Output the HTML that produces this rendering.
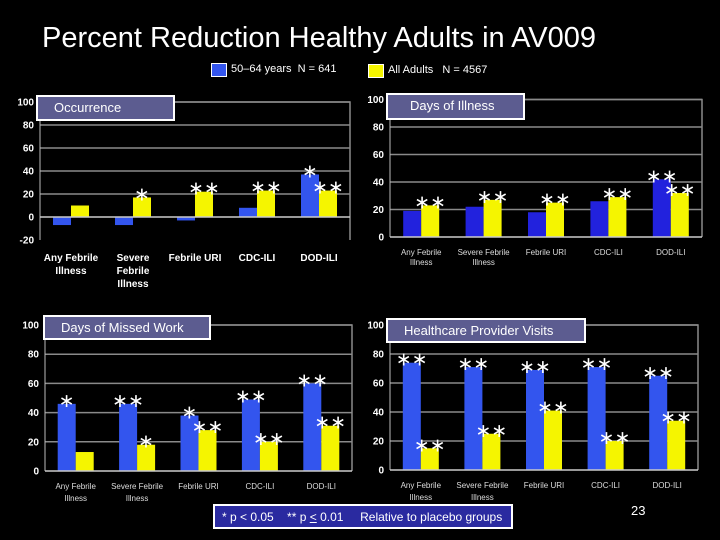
<!DOCTYPE html>
<html><head><meta charset="utf-8">
<style>
body{margin:0;background:#000;width:720px;height:540px;overflow:hidden;font-family:"Liberation Sans",sans-serif;}
#root{position:relative;width:720px;height:540px;}
.t{position:absolute;color:#fff;white-space:nowrap;}
.box{position:absolute;background:#5c5c90;border:2px solid #fff;color:#fff;font-size:13px;box-sizing:border-box;padding:3px 0 0 16px;}
</style></head><body>
<div id="root">
<div class="t" style="left:42px;top:22px;font-size:29px;">Percent Reduction Healthy Adults in AV009</div>
<div>
<div style="position:absolute;left:211px;top:63px;width:14px;height:12px;background:#3355ee;border:1px solid #fff;"></div>
<div class="t" style="left:231px;top:63px;font-size:11px;">50–64 years&nbsp; N = 641</div>
<div style="position:absolute;left:368px;top:64px;width:14px;height:12px;background:#f5f500;border:1px solid #fff;"></div>
<div class="t" style="left:388px;top:64px;font-size:11px;">All Adults&nbsp;&nbsp; N = 4567</div>
</div>
<svg id="svg" width="720" height="540" style="position:absolute;left:0;top:0"></svg>
<div class="box" style="left:36px;top:95px;width:139px;height:26px;">Occurrence</div>
<div class="box" style="left:386px;top:93px;width:139px;height:27px;padding-left:22px;">Days of Illness</div>
<div class="box" style="left:43px;top:315px;width:168px;height:25px;padding-left:16px;">Days of Missed Work</div>
<div class="box" style="left:386px;top:318px;width:200px;height:25px;padding-left:16px;">Healthcare Provider Visits</div>
<div style="position:absolute;left:213px;top:504px;width:300px;height:25px;background:#2a2aa0;border:2px solid #fff;box-sizing:border-box;color:#fff;font-size:12px;padding:4px 0 0 7px;white-space:nowrap;">* p &lt; 0.05&nbsp;&nbsp;&nbsp; ** p <u>&lt;</u> 0.01&nbsp;&nbsp;&nbsp;&nbsp; Relative to placebo groups</div>
<div class="t" style="left:631px;top:503px;font-size:13px;">23</div>
</div>
<script>
const categories1 = [["Any Febrile","Illness"],["Severe","Febrile","Illness"],["Febrile URI"],["CDC-ILI"],["DOD-ILI"]];
const categories2 = [["Any Febrile","Illness"],["Severe Febrile","Illness"],["Febrile URI"],["CDC-ILI"],["DOD-ILI"]];
const occBlue = [-7,-7,-3,8,37];
const occYellow = [10,17,22,23,23];
const occBlueStars = ["","","","","*"];
const occYellowStars = ["","*","**","**","**"];
const occTicks = [100,80,60,40,20,0,-20];
const illBlue = [19,22,18,26,42];
const illYellow = [23,27,25,29,32];
const illBlueStars = ["","","","","**"];
const illYellowStars = ["**","**","**","**","**"];
const illTicks = [100,80,60,40,20,0];
const workBlue = [46,46,38,49,60];
const workYellow = [13,18,28,20,31];
const workBlueStars = ["*","**","*","**","**"];
const workYellowStars = ["","*","**","**","**"];
const hcpBlue = [74,71,69,71,65];
const hcpYellow = [15,25,41,20,34];
const hcpBlueStars = ["**","**","**","**","**"];
const hcpYellowStars = ["**","**","**","**","**"];
const pctTicks = [100,80,60,40,20,0];

const svg=document.getElementById('svg');
const NS='http://www.w3.org/2000/svg';
function mk(tag,attrs,parent){const e=document.createElementNS(NS,tag);for(const k in attrs)e.setAttribute(k,attrs[k]);(parent||svg).appendChild(e);return e;}

function chart(name,cfg){
  const g=mk('g',{});
  
  
  const y=v=>cfg.y0-(v)*cfg.k;
  const top=y(cfg.ticks[0]), bot=y(cfg.ticks[cfg.ticks.length-1]);
  cfg.ticks.forEach(t=>{
    if(t!==cfg.ticks[cfg.ticks.length-1]&&t!==0){
      const l=mk('line',{x1:cfg.x0,x2:cfg.x1,y1:y(t),y2:y(t),stroke:'#8a8a8a','stroke-width':1.5},g);
      
      
    }
    const tx=mk('text',{x:cfg.x0-6,y:y(t)+3.5,fill:'#fff','font-size':10,'font-weight':'bold','text-anchor':'end','font-family':'Liberation Sans'},g);
    tx.textContent=t;
    
    
  });
  mk('polyline',{points:`${cfg.x0},${top} ${cfg.x1},${top} ${cfg.x1},${bot}`,fill:'none',stroke:'#8a8a8a','stroke-width':1.5},g);
  mk('line',{x1:cfg.x0,x2:cfg.x0,y1:top,y2:bot,stroke:'#bbb','stroke-width':1},g);
  const cw=(cfg.x1-cfg.x0)/cfg.blue.length;
  const bw=cfg.bw;
  cfg.blue.forEach((v,i)=>{
    const cx=cfg.x0+cw*(i+0.5);
    [[v,cfg.bc,-bw,cfg.bs[i],'bar-50-64'],[cfg.yel[i],'#f5f500',0,cfg.ys[i],'bar-all-adults']].forEach(([val,col,off,star,nm])=>{
      const r=mk('rect',{x:cx+off,y:Math.min(y(val),y(0)),width:bw,height:Math.abs(y(val)-y(0)),fill:col},g);
      
      
      if(star){
        const s=mk('text',{x:cx+off+bw/2,y:Math.min(y(val),y(0))-2+5,fill:'#fff','font-size':19,'text-anchor':'middle','font-family':'DejaVu Sans'},g);
        s.textContent=star.replace(/\*/g,'∗');
        
        
      }
    });
    const lines=cfg.cats[i];
    lines.forEach((ln,j)=>{
      const t=mk('text',{x:cx,y:cfg.ly+j*cfg.lh,fill:cfg.lc,'font-size':cfg.lf,'font-weight':cfg.lw,'text-anchor':'middle','font-family':'Liberation Sans'},g);
      t.textContent=ln;
      
      
    });
  });
  mk('line',{x1:cfg.x0,x2:cfg.x1,y1:y(0),y2:y(0),stroke:'#ccc','stroke-width':1.5},g);
}
chart('occurrence-chart',{x0:40,x1:350,y0:217,k:1.15,ticks:occTicks,blue:occBlue,yel:occYellow,bs:occBlueStars,ys:occYellowStars,bc:'#3355ee',bw:18,cats:categories1,ly:261,lh:13,lf:10,lw:'bold',lc:'#fff'});
chart('days-of-illness-chart',{x0:390,x1:702,y0:237,k:1.375,ticks:illTicks,blue:illBlue,yel:illYellow,bs:illBlueStars,ys:illYellowStars,bc:'#2222dd',bw:18,cats:categories2,ly:255,lh:10,lf:8,lw:'normal',lc:'#ddd'});
chart('missed-work-chart',{x0:45,x1:352,y0:471,k:1.46,ticks:pctTicks,blue:workBlue,yel:workYellow,bs:workBlueStars,ys:workYellowStars,bc:'#3355ee',bw:18,cats:categories2,ly:489,lh:12,lf:8,lw:'normal',lc:'#ddd'});
chart('provider-visits-chart',{x0:390,x1:698,y0:470,k:1.45,ticks:pctTicks,blue:hcpBlue,yel:hcpYellow,bs:hcpBlueStars,ys:hcpYellowStars,bc:'#3355ee',bw:18,cats:categories2,ly:488,lh:12,lf:8,lw:'normal',lc:'#ddd'});
</script>
</body></html>
